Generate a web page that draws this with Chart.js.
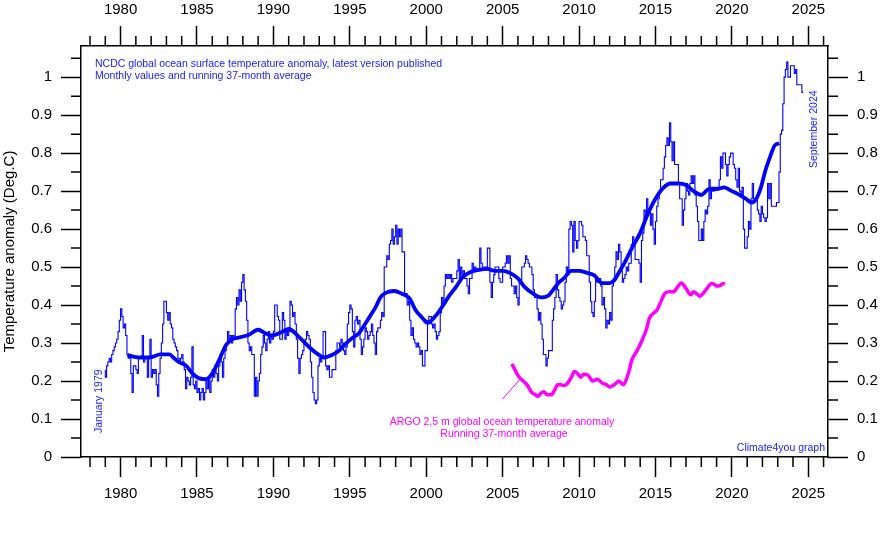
<!DOCTYPE html>
<html>
<head>
<meta charset="utf-8">
<script src="https://cdn.jsdelivr.net/npm/chart.js@4.4.1/dist/chart.umd.min.js"></script>
<style>
  html, body { margin: 0; padding: 0; background: #fff; }
  #wrap { width: 880px; height: 536px; }
</style>
</head>
<body>
<div id="wrap"><canvas id="c" width="880" height="536"></canvas></div>
<script>
// NCDC monthly ocean surface anomaly, Jan 1979 .. Sep 2024
var sst1970s = [0.23, 0.21, 0.24, 0.25, 0.26, 0.25, 0.27, 0.28, 0.29, 0.30, 0.31, 0.33];
var sst1980s = [
  0.36, 0.39, 0.37, 0.34, 0.35, 0.32, 0.27, 0.26, 0.27, 0.22, 0.17, 0.24,
  0.24, 0.23, 0.22, 0.26, 0.26, 0.26, 0.32, 0.25, 0.26, 0.26, 0.21, 0.26,
  0.31, 0.21, 0.23, 0.22, 0.23, 0.19, 0.16, 0.22, 0.26, 0.30, 0.35, 0.41,
  0.41, 0.38, 0.36, 0.38, 0.35, 0.34, 0.31, 0.30, 0.29, 0.28, 0.26, 0.25,
  0.26, 0.27, 0.25, 0.23, 0.18, 0.21, 0.20, 0.19, 0.21, 0.29, 0.19, 0.18,
  0.20, 0.17, 0.18, 0.15, 0.17, 0.18, 0.15, 0.17, 0.20, 0.18, 0.21, 0.17,
  0.20, 0.23, 0.21, 0.24, 0.22, 0.20, 0.24, 0.27, 0.25, 0.21, 0.26, 0.28,
  0.30, 0.33, 0.31, 0.32, 0.30, 0.32, 0.31, 0.39, 0.42, 0.40, 0.44, 0.41,
  0.46, 0.48, 0.44, 0.41, 0.36, 0.30, 0.28, 0.29, 0.27, 0.27, 0.16, 0.21,
  0.16, 0.20, 0.22, 0.27, 0.29, 0.32, 0.30, 0.28, 0.31, 0.33, 0.30, 0.32
];
var sst1990s = [
  0.31, 0.33, 0.40, 0.40, 0.37, 0.36, 0.31, 0.31, 0.38, 0.36, 0.31, 0.33,
  0.32, 0.33, 0.41, 0.40, 0.37, 0.38, 0.35, 0.31, 0.26, 0.22, 0.26, 0.27,
  0.28, 0.30, 0.31, 0.33, 0.32, 0.31, 0.25, 0.21, 0.17, 0.15, 0.14, 0.15,
  0.24, 0.26, 0.25, 0.26, 0.33, 0.33, 0.24, 0.23, 0.24, 0.21, 0.21, 0.23,
  0.23, 0.23, 0.28, 0.30, 0.30, 0.29, 0.31, 0.30, 0.28, 0.27, 0.29, 0.35,
  0.38, 0.40, 0.39, 0.33, 0.29, 0.36, 0.37, 0.35, 0.36, 0.31, 0.27, 0.29,
  0.31, 0.34, 0.33, 0.31, 0.32, 0.33, 0.35, 0.32, 0.30, 0.27, 0.33, 0.34,
  0.34, 0.36, 0.38, 0.37, 0.50, 0.50, 0.53, 0.52, 0.56, 0.57, 0.60, 0.56,
  0.58, 0.61, 0.56, 0.60, 0.58, 0.60, 0.54, 0.54, 0.43, 0.43, 0.40, 0.41,
  0.36, 0.32, 0.34, 0.31, 0.30, 0.29, 0.30, 0.29, 0.27, 0.28, 0.24, 0.24
];
var sst2000s = [
  0.28, 0.28, 0.36, 0.37, 0.37, 0.35, 0.34, 0.35, 0.33, 0.31, 0.32, 0.33,
  0.38, 0.42, 0.40, 0.45, 0.48, 0.47, 0.48, 0.47, 0.48, 0.46, 0.47, 0.47,
  0.47, 0.49, 0.52, 0.46, 0.50, 0.48, 0.49, 0.47, 0.47, 0.45, 0.43, 0.47,
  0.47, 0.51, 0.49, 0.50, 0.49, 0.49, 0.49, 0.55, 0.51, 0.50, 0.50, 0.50,
  0.50, 0.55, 0.55, 0.46, 0.42, 0.46, 0.48, 0.50, 0.50, 0.50, 0.47, 0.46,
  0.46, 0.50, 0.50, 0.51, 0.53, 0.51, 0.53, 0.47, 0.45, 0.45, 0.43, 0.45,
  0.42, 0.40, 0.46, 0.46, 0.50, 0.50, 0.51, 0.53, 0.52, 0.51, 0.50, 0.50,
  0.48, 0.44, 0.42, 0.42, 0.39, 0.36, 0.38, 0.35, 0.31, 0.27, 0.27, 0.24,
  0.26, 0.28, 0.28, 0.28, 0.36, 0.39, 0.42, 0.48, 0.44, 0.42, 0.41, 0.39,
  0.40, 0.41, 0.46, 0.50, 0.48, 0.60, 0.62, 0.61, 0.54, 0.62, 0.57, 0.55
];
var sst2010s = [
  0.57, 0.62, 0.62, 0.61, 0.58, 0.58, 0.57, 0.53, 0.53, 0.46, 0.41, 0.38,
  0.37, 0.41, 0.47, 0.46, 0.46, 0.47, 0.45, 0.40, 0.42, 0.39, 0.34, 0.36,
  0.35, 0.38, 0.36, 0.45, 0.47, 0.50, 0.54, 0.52, 0.56, 0.54, 0.49, 0.46,
  0.47, 0.48, 0.50, 0.49, 0.51, 0.51, 0.56, 0.58, 0.57, 0.52, 0.52, 0.52,
  0.51, 0.46, 0.57, 0.59, 0.65, 0.63, 0.68, 0.65, 0.65, 0.61, 0.64, 0.60,
  0.56, 0.62, 0.66, 0.68, 0.70, 0.73, 0.73, 0.76, 0.79, 0.82, 0.84, 0.82,
  0.88, 0.83, 0.78, 0.83, 0.77, 0.77, 0.77, 0.72, 0.68, 0.68, 0.61, 0.65,
  0.68, 0.72, 0.70, 0.69, 0.72, 0.74, 0.72, 0.74, 0.69, 0.66, 0.62, 0.57,
  0.57, 0.60, 0.57, 0.62, 0.65, 0.64, 0.66, 0.73, 0.68, 0.71, 0.70, 0.71,
  0.71, 0.71, 0.71, 0.73, 0.79, 0.76, 0.80, 0.80, 0.77, 0.74, 0.77, 0.79
];
var sst2020s = [
  0.80, 0.80, 0.77, 0.76, 0.73, 0.71, 0.76, 0.70, 0.69, 0.71, 0.60, 0.55,
  0.55, 0.58, 0.62, 0.60, 0.68, 0.72, 0.68, 0.68, 0.68, 0.65, 0.64, 0.62,
  0.66, 0.64, 0.63, 0.62, 0.63, 0.72, 0.68, 0.72, 0.66, 0.66, 0.66, 0.66,
  0.67, 0.67, 0.75, 0.85, 0.86, 0.93, 1.00, 1.02, 1.04, 1.00, 1.00, 1.03,
  1.03, 1.03, 1.01, 1.02, 0.98, 0.98, 0.98, 0.98, 0.96
];

// running 37-month average (read at intervals along the thick line)
var runYears = [1980.45, 1981.2, 1981.9, 1982.6, 1983.2, 1983.5, 1983.8, 1984.3, 1984.7, 1985.15,
  1985.6, 1986.0, 1986.5, 1986.9, 1987.3, 1987.8, 1988.4, 1989.0, 1989.5, 1989.9,
  1990.6, 1991.0, 1991.7, 1992.4, 1993.0, 1993.3, 1993.9, 1994.3, 1994.65, 1995.15,
  1995.6, 1995.95, 1996.3, 1996.7, 1997.0, 1997.35, 1997.9, 1998.4, 1998.9, 1999.3,
  1999.75, 2000.1, 2000.6, 2001.05, 2001.5, 2001.95, 2002.4, 2002.9, 2003.5, 2004.0,
  2004.5, 2005.0, 2005.5, 2006.0, 2006.5, 2007.0, 2007.5, 2008.0, 2008.3, 2008.7,
  2009.0, 2009.5, 2010.0, 2010.5, 2011.0, 2011.5, 2012.0, 2012.3, 2012.6, 2013.0,
  2013.5, 2014.0, 2014.5, 2015.0, 2015.5, 2016.0, 2016.5, 2017.0, 2017.5, 2018.0,
  2018.5, 2019.0, 2019.5, 2020.0, 2020.5, 2020.9, 2021.3, 2021.6, 2021.9, 2022.2,
  2022.5, 2022.8, 2023.1];
var runValues = [0.268, 0.262, 0.262, 0.27, 0.27, 0.26, 0.25, 0.24, 0.22, 0.207,
  0.205, 0.22, 0.26, 0.295, 0.31, 0.315, 0.322, 0.335, 0.325, 0.32,
  0.33, 0.337, 0.315, 0.287, 0.268, 0.262, 0.27, 0.28, 0.295, 0.313,
  0.326, 0.347, 0.369, 0.395, 0.42, 0.432, 0.437, 0.43, 0.418, 0.387,
  0.366, 0.353, 0.371, 0.396, 0.424, 0.448, 0.474, 0.487, 0.493, 0.495,
  0.49, 0.49, 0.484, 0.47, 0.445, 0.43, 0.42, 0.425, 0.44, 0.46,
  0.47, 0.49, 0.49, 0.485, 0.478, 0.458, 0.458, 0.465, 0.485, 0.513,
  0.553, 0.59, 0.64, 0.68, 0.708, 0.72, 0.72, 0.716, 0.70, 0.69,
  0.705, 0.705, 0.71, 0.70, 0.69, 0.68, 0.67, 0.68, 0.71, 0.755,
  0.79, 0.82, 0.826];

// ARGO 2.5 m, running 37-month average
var argoYears = [2005.6, 2005.8, 2006.0, 2006.2, 2006.4, 2006.6, 2006.9, 2007.1, 2007.3, 2007.5,
  2007.7, 2007.9, 2008.2, 2008.4, 2008.6, 2008.8, 2009.0, 2009.2, 2009.5, 2009.7,
  2009.9, 2010.1, 2010.3, 2010.6, 2010.9, 2011.2, 2011.5, 2011.8, 2012.0, 2012.3,
  2012.6, 2012.9, 2013.1, 2013.3, 2013.45, 2013.8, 2014.15, 2014.4, 2014.6, 2014.8,
  2015.1, 2015.4, 2015.6, 2015.9, 2016.2, 2016.4, 2016.7, 2016.9, 2017.1, 2017.3,
  2017.5, 2017.7, 2017.9, 2018.1, 2018.4, 2018.65, 2018.85, 2019.0, 2019.25, 2019.45, 2019.55];
var argoValues = [0.245, 0.23, 0.215, 0.205, 0.198, 0.19, 0.17, 0.165, 0.16, 0.168,
  0.172, 0.164, 0.164, 0.176, 0.19, 0.19, 0.188, 0.192, 0.21, 0.225,
  0.22, 0.21, 0.218, 0.215, 0.20, 0.205, 0.195, 0.19, 0.184, 0.19,
  0.20, 0.19, 0.205, 0.23, 0.255, 0.28, 0.31, 0.335, 0.365, 0.376,
  0.387, 0.413, 0.43, 0.435, 0.435, 0.445, 0.458, 0.45, 0.437, 0.427,
  0.435, 0.43, 0.423, 0.43, 0.445, 0.457, 0.455, 0.45, 0.452, 0.457, 0.455];
var argoLeaderYears = [2004.98, 2006.1];
var argoLeaderValues = [0.152, 0.203];

var xTickYears = [1980, 1985, 1990, 1995, 2000, 2005, 2010, 2015, 2020, 2025];
var yTickValues = [0, 0.1, 0.2, 0.3, 0.4, 0.5, 0.6, 0.7, 0.8, 0.9, 1];
var yTickLabels = ['0', '0.1', '0.2', '0.3', '0.4', '0.5', '0.6', '0.7', '0.8', '0.9', '1'];

var X_MIN = 1977.41, X_MAX = 2026.29, Y_MIN = 0, Y_MAX = 1.082;
var FONT = '"Liberation Sans", Arial, sans-serif';
var BLUE = '#0000ff', MAGENTA = '#ff00ff', TXTBLUE = '#1a1aff';

var monthly = [].concat(sst1970s, sst1980s, sst1990s, sst2000s, sst2010s, sst2020s)
  .map(function (v, i) { return { x: 1979 + i / 12, y: v }; });
function pairs(xs, ys) { return xs.map(function (x, i) { return { x: x, y: ys[i] }; }); }

function xAxis(pos, h, pad) {
  return {
    type: 'linear', axis: 'x', position: pos, min: X_MIN, max: X_MAX,
    afterBuildTicks: function (s) { s.ticks = xTickYears.map(function (v) { return { value: v }; }); },
    afterFit: function (s) { s.height = h; },
    ticks: { font: { size: 15, family: FONT }, color: '#000', padding: pad, maxRotation: 0, autoSkip: false,
             callback: function (v) { return String(v); } },
    grid: { drawOnChartArea: false, tickLength: 20, tickColor: '#000', tickWidth: 1.5 },
    border: { color: '#000', width: 1.5 }
  };
}
function yAxis(pos, w, title) {
  return {
    type: 'linear', axis: 'y', position: pos, min: Y_MIN, max: Y_MAX,
    afterBuildTicks: function (s) { s.ticks = yTickValues.map(function (v) { return { value: v }; }); },
    afterFit: function (s) { s.width = w; },
    ticks: { font: { size: 15, family: FONT }, color: '#000', padding: 9, autoSkip: false,
             callback: function (v, i) { return yTickLabels[i]; } },
    grid: { drawOnChartArea: false, tickLength: 20, tickColor: '#000', tickWidth: 1.5 },
    border: { color: '#000', width: 1.5 },
    title: title ? { display: true, text: title, color: '#000', font: { size: 15, family: FONT }, padding: { top: 1, bottom: 0 } } : { display: false }
  };
}

// minor ticks and the text notes on the plot
var decor = {
  id: 'decor',
  afterDraw: function (chart) {
    var ctx = chart.ctx, sx = chart.scales.x, sy = chart.scales.y, a = chart.chartArea;
    ctx.save();
    ctx.strokeStyle = '#000';
    ctx.lineWidth = 1.5;
    ctx.beginPath();
    for (var yr = 1978; yr <= 2026; yr++) {
      if (yr % 5 === 0) continue;
      var px = sx.getPixelForValue(yr);
      ctx.moveTo(px, a.bottom); ctx.lineTo(px, a.bottom + 10);
      ctx.moveTo(px, a.top); ctx.lineTo(px, a.top - 10);
    }
    for (var k = 0; k < 11; k++) {
      var py = sy.getPixelForValue(0.05 + k * 0.1);
      ctx.moveTo(a.left, py); ctx.lineTo(a.left - 10, py);
      ctx.moveTo(a.right, py); ctx.lineTo(a.right + 10, py);
    }
    ctx.stroke();

    ctx.font = '10.5px ' + FONT;
    ctx.fillStyle = TXTBLUE;
    ctx.textBaseline = 'alphabetic';
    ctx.textAlign = 'left';
    ctx.fillText('NCDC global ocean surface temperature anomaly, latest version published', 95, 67);
    ctx.fillText('Monthly values and running 37-month average', 95, 79);
    ctx.textAlign = 'right';
    ctx.fillText('Climate4you graph', 825, 451);

    ctx.textAlign = 'left';
    ctx.save(); ctx.translate(102, 433); ctx.rotate(-Math.PI / 2);
    ctx.fillText('January 1979', 0, 0); ctx.restore();
    ctx.save(); ctx.translate(817, 168); ctx.rotate(-Math.PI / 2);
    ctx.fillText('September 2024', 0, 0); ctx.restore();

    ctx.fillStyle = MAGENTA;
    ctx.textAlign = 'center';
    ctx.fillText('ARGO 2,5 m global ocean temperature anomaly', 502, 425);
    ctx.fillText('Running 37-month average', 504, 437);
    ctx.restore();
  }
};

new Chart(document.getElementById('c'), {
  type: 'line',
  data: {
    datasets: [
      { label: 'Monthly', data: monthly, borderColor: BLUE, borderWidth: 1.1, stepped: 'after',
        pointRadius: 0, fill: false, order: 3 },
      { label: 'Running 37-month', data: pairs(runYears, runValues), borderColor: BLUE, borderWidth: 3.8,
        cubicInterpolationMode: 'monotone', pointRadius: 0, fill: false, order: 1 },
      { label: 'ARGO', data: pairs(argoYears, argoValues), borderColor: MAGENTA, borderWidth: 3.5,
        cubicInterpolationMode: 'monotone', pointRadius: 0, fill: false, order: 2 },
      { label: 'leader', data: pairs(argoLeaderYears, argoLeaderValues), borderColor: MAGENTA, borderWidth: 1,
        pointRadius: 0, fill: false, order: 2 }
    ]
  },
  options: {
    responsive: false,
    animation: false,
    devicePixelRatio: 1,
    layout: { padding: 0 },
    plugins: { legend: { display: false }, tooltip: { enabled: false } },
    scales: {
      x: xAxis('bottom', 79, 8),
      x2: xAxis('top', 46, 7),
      y: yAxis('left', 81, 'Temperature anomaly (Deg.C)'),
      y2: yAxis('right', 52, null)
    }
  },
  plugins: [decor]
});
</script>
</body>
</html>
